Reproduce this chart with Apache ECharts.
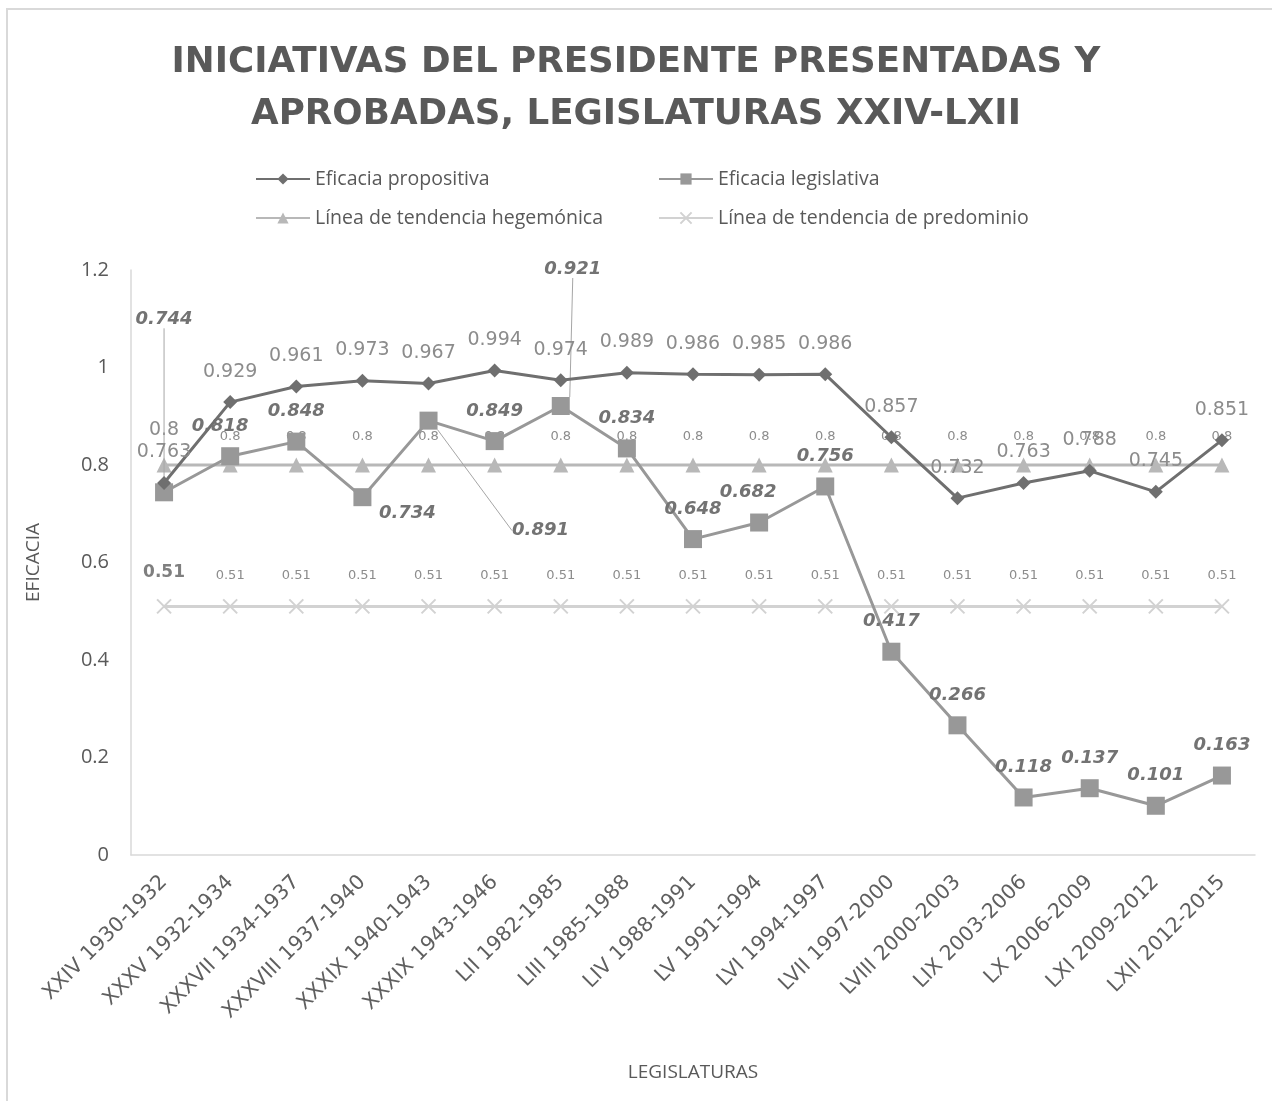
<!DOCTYPE html>
<html>
<head>
<meta charset="utf-8">
<script src="https://cdn.jsdelivr.net/npm/echarts@6/dist/echarts.min.js"></script>
<style>
  html, body { margin: 0; padding: 0; background: #fff; }
  #chart { width: 1272px; height: 1101px; }
</style>
</head>
<body>
<div id="chart"></div>
<script>
const categories = [
  'XXIV 1930-1932', 'XXXV 1932-1934', 'XXXVII 1934-1937', 'XXXVIII 1937-1940',
  'XXXIX 1940-1943', 'XXXIX 1943-1946', 'LII 1982-1985', 'LIII 1985-1988',
  'LIV 1988-1991', 'LV 1991-1994', 'LVI 1994-1997', 'LVII 1997-2000',
  'LVIII 2000-2003', 'LIX 2003-2006', 'LX 2006-2009', 'LXI 2009-2012', 'LXII 2012-2015'
];
const propositiva = [0.763, 0.929, 0.961, 0.973, 0.967, 0.994, 0.974, 0.989, 0.986, 0.985, 0.986, 0.857, 0.732, 0.763, 0.788, 0.745, 0.851];
const legislativa = [0.744, 0.818, 0.848, 0.734, 0.891, 0.849, 0.921, 0.834, 0.648, 0.682, 0.756, 0.417, 0.266, 0.118, 0.137, 0.101, 0.163];
const hegemonica = [0.8, 0.8, 0.8, 0.8, 0.8, 0.8, 0.8, 0.8, 0.8, 0.8, 0.8, 0.8, 0.8, 0.8, 0.8, 0.8, 0.8];
const predominio = [0.51, 0.51, 0.51, 0.51, 0.51, 0.51, 0.51, 0.51, 0.51, 0.51, 0.51, 0.51, 0.51, 0.51, 0.51, 0.51, 0.51];
const yTicks = [0, 0.2, 0.4, 0.6, 0.8, 1, 1.2];

// label moves for Eficacia legislativa (some with leader lines)
const legOffsets = {
  0: { offset: [0, -143], line: 'up', gap: 25 },
  1: { offset: [-10, 0] },
  3: { offset: [45, 46] },
  4: { offset: [112, 140], line: 'elbow' },
  6: { offset: [12, -107], line: 'up', gap: 6 },
  9: { offset: [-11, 0] }
};

const NUM_FONT = 'DejaVu Sans';
const TXT_FONT = 'Open Sans';

let chart = echarts.init(document.getElementById('chart'));

let legData = legislativa.map(function (v, i) {
  let o = legOffsets[i];
  if (!o || !o.line) return v;
  return { value: v, labelLine: { show: true, lineStyle: { color: '#a6a6a6', width: 1 } } };
});

let hegData = hegemonica.map(function (v, i) {
  if (i === 0) return { value: v, label: { fontSize: 19, distance: 18 } };
  return v;
});

let predData = predominio.map(function (v, i) {
  if (i === 0) return { value: v, label: { fontSize: 17, fontWeight: 'bold', color: '#7f7f7f', distance: 17 } };
  return v;
});

const xPath = 'path://M0,0L10,10M10,0L0,10';

// move labels and build leader lines from the rects the library computed
function legLabelLayout (params) {
  let o = legOffsets[params.dataIndex];
  if (!o) return {};
  let dx = o.offset[0];
  let dy = o.offset[1];
  let res = { dx: dx, dy: dy };
  if (!o.line) return res;
  let r = params.rect;
  let l = params.labelRect;
  let lx = l.x + dx;
  let ly = l.y + dy;
  let cx = r.x + r.width / 2;
  let cy = r.y + r.height / 2;
  if (o.line === 'up') {
    res.labelLinePoints = [[lx + l.width / 2, ly + l.height + o.gap], [cx, cy]];
  } else {
    let my = ly + l.height / 2;
    res.labelLinePoints = [[cx, cy], [lx - 16, my], [lx - 4, my]];
  }
  return res;
}

chart.setOption({
  animation: false,
  backgroundColor: '#fff',
  graphic: [{
    type: 'rect',
    shape: { x: 7, y: 9, width: 1300, height: 1200 },
    style: { fill: 'none', stroke: '#d9d9d9', lineWidth: 2 },
    silent: true
  }],
  title: {
    text: 'INICIATIVAS DEL PRESIDENTE PRESENTADAS Y\nAPROBADAS, LEGISLATURAS XXIV-LXII',
    left: 'center',
    top: 32,
    textStyle: {
      fontFamily: NUM_FONT,
      fontSize: 35.7,
      fontWeight: 'bold',
      color: '#595959',
      lineHeight: 52
    }
  },
  legend: [{
    data: ['Eficacia propositiva', 'Línea de tendencia hegemónica'],
    orient: 'vertical',
    left: 250,
    top: 164,
    itemGap: 19,
    itemWidth: 54,
    itemHeight: 14,
    textStyle: { fontFamily: TXT_FONT, fontSize: 19.5, color: '#595959' }
  }, {
    data: ['Eficacia legislativa', 'Línea de tendencia de predominio'],
    orient: 'vertical',
    left: 653,
    top: 164,
    itemGap: 19,
    itemWidth: 54,
    itemHeight: 14,
    textStyle: { fontFamily: TXT_FONT, fontSize: 19.5, color: '#595959' }
  }],
  grid: { left: 131, right: 17, top: 270, bottom: 246, containLabel: false },
  xAxis: {
    type: 'category',
    data: categories,
    boundaryGap: true,
    name: 'LEGISLATURAS',
    nameLocation: 'middle',
    nameGap: 208,
    nameTextStyle: { fontFamily: TXT_FONT, fontSize: 19, color: '#595959' },
    axisLine: { lineStyle: { color: '#d9d9d9', width: 1.5 } },
    axisTick: { show: false },
    axisLabel: {
      interval: 0,
      rotate: 45,
      margin: 24,
      fontFamily: NUM_FONT,
      fontSize: 20.5,
      color: '#5f5f5f'
    }
  },
  yAxis: {
    type: 'value',
    min: yTicks[0],
    max: yTicks[yTicks.length - 1],
    interval: 0.2,
    name: 'EFICACIA',
    nameLocation: 'middle',
    nameRotate: 90,
    nameGap: 88,
    nameTextStyle: { fontFamily: TXT_FONT, fontSize: 19, color: '#595959' },
    axisLine: { show: true, lineStyle: { color: '#d9d9d9', width: 1.5 } },
    axisTick: { show: false },
    splitLine: { show: false },
    axisLabel: {
      margin: 22,
      fontFamily: TXT_FONT,
      fontSize: 20,
      color: '#595959'
    }
  },
  series: [
    {
      name: 'Línea de tendencia de predominio',
      type: 'line',
      data: predData,
      symbol: xPath,
      symbolSize: 14,
      z: 1,
      color: '#d2d2d2',
      lineStyle: { color: '#d2d2d2', width: 3 },
      itemStyle: { color: '#d2d2d2', borderColor: '#d2d2d2', borderWidth: 2 },
      label: {
        show: true,
        position: 'top',
        distance: 16,
        fontFamily: NUM_FONT,
        fontSize: 13,
        color: '#8c8c8c'
      }
    },
    {
      name: 'Línea de tendencia hegemónica',
      type: 'line',
      data: hegData,
      symbol: 'triangle',
      symbolSize: 15,
      z: 2,
      color: '#b8b8b8',
      lineStyle: { color: '#b8b8b8', width: 3 },
      itemStyle: { color: '#b8b8b8' },
      label: {
        show: true,
        position: 'top',
        distance: 14,
        fontFamily: NUM_FONT,
        fontSize: 13,
        color: '#8c8c8c'
      }
    },
    {
      name: 'Eficacia legislativa',
      type: 'line',
      data: legData,
      symbol: 'rect',
      symbolSize: 18,
      z: 3,
      color: '#989898',
      lineStyle: { color: '#989898', width: 3 },
      itemStyle: { color: '#989898' },
      labelLayout: legLabelLayout,
      label: {
        show: true,
        position: 'top',
        distance: 12,
        fontFamily: NUM_FONT,
        fontSize: 18,
        fontWeight: 'bold',
        fontStyle: 'italic',
        color: '#737373'
      }
    },
    {
      name: 'Eficacia propositiva',
      type: 'line',
      data: propositiva,
      symbol: 'diamond',
      symbolSize: 14,
      z: 4,
      color: '#6f6f6f',
      lineStyle: { color: '#6f6f6f', width: 3 },
      itemStyle: { color: '#6f6f6f' },
      label: {
        show: true,
        position: 'top',
        distance: 14,
        fontFamily: NUM_FONT,
        fontSize: 19,
        color: '#8c8c8c'
      }
    }
  ]
});
</script>
</body>
</html>
